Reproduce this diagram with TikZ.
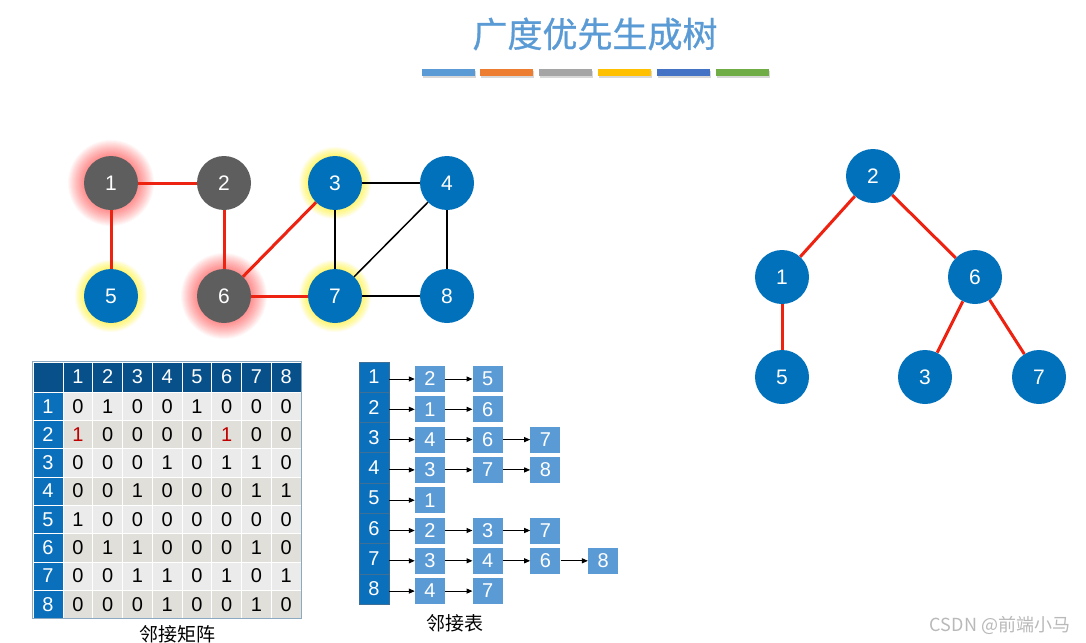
\documentclass[tikz,border=0pt]{standalone}
\usepackage{fontspec}
\setmainfont{Liberation Sans}
\newfontfamily\cjk{Noto Sans CJK SC}
\newfontfamily\cjktitle[FakeBold=0.8]{Noto Sans CJK SC}
\usepackage{tikz}
\usetikzlibrary{positioning,arrows.meta,shadows,backgrounds}
\usepackage{xcolor}

\definecolor{titleblue}{HTML}{5B9BD5}
\definecolor{nodegray}{HTML}{5E5E5E}
\definecolor{nodeblue}{HTML}{0071BA}
\definecolor{edgered}{HTML}{EE2211}
\definecolor{hdrnavy}{HTML}{08508A}
\definecolor{rowblue}{HTML}{0A70BC}
\definecolor{rowa}{HTML}{EBEBEB}
\definecolor{rowb}{HTML}{E0DFDA}
\definecolor{cellred}{HTML}{C00000}
\definecolor{boxblue}{HTML}{5B9BD5}
\definecolor{listline}{HTML}{3D6F97}
\definecolor{barorange}{HTML}{ED7D31}
\definecolor{bargray}{HTML}{A5A5A5}
\definecolor{baryellow}{HTML}{FFC000}
\definecolor{barblue}{HTML}{4472C4}
\definecolor{bargreen}{HTML}{70AD47}

\begin{document}
\begin{tikzpicture}[
    x=1pt, y=-1pt,
    vertex/.style={circle, minimum size=54pt, inner sep=0pt, text=white, font=\fontsize{21}{24}\selectfont},
    grayvertex/.style={vertex, fill=nodegray},
    bluevertex/.style={vertex, fill=nodeblue},
    treeedge/.style={draw=edgered, line width=3pt},
    graphedge/.style={draw=black, line width=1.5pt},
    colorbar/.style={minimum width=53pt, minimum height=7pt, inner sep=0pt, drop shadow={shadow xshift=1pt, shadow yshift=-2pt, opacity=0.3}},
    cell/.style={minimum width=29.75pt, minimum height=28.3pt, inner sep=0pt, draw=white, line width=0.6pt, font=\fontsize{20}{22}\selectfont},
    colhead/.style={cell, fill=hdrnavy, text=white, minimum height=30pt},
    rowhead/.style={cell, fill=rowblue, text=white, minimum width=30pt},
    gridline/.style={draw=listline!60, line width=0.6pt},
    listhead/.style={rectangle, minimum width=30pt, minimum height=30.3pt, inner sep=0pt, fill=rowblue, draw=listline, line width=0.6pt, text=white, font=\fontsize{20}{22}\selectfont},
    listbox/.style={rectangle, minimum width=30pt, minimum height=26pt, inner sep=0pt, fill=boxblue, text=white, font=\fontsize{20}{22}\selectfont},
    link/.style={-{Triangle[length=6pt,width=5pt]}, line width=1pt},
    caption/.style={font=\cjk\fontsize{19}{21}\selectfont}
  ]
    \useasboundingbox (0,0) rectangle (1086,642);

    % Title
    \node[font=\cjktitle\fontsize{35}{40}\selectfont, text=titleblue] (title) at (595,34) {广度优先生成树};
    \node[colorbar, fill=titleblue] (bar1) at (448.5,72.5) {};
    \node[colorbar, fill=barorange] (bar2) at (506,72.5) {};
    \node[colorbar, fill=bargray] (bar3) at (565,72.5) {};
    \node[colorbar, fill=baryellow] (bar4) at (624,72.5) {};
    \node[colorbar, fill=barblue] (bar5) at (683,72.5) {};
    \node[colorbar, fill=bargreen] (bar6) at (742,72.5) {};

    % Graph
    \node[grayvertex] (g1) at (111,183) {1};
    \node[grayvertex] (g2) at (224,183) {2};
    \node[bluevertex] (g3) at (335,183) {3};
    \node[bluevertex] (g4) at (447,183) {4};
    \node[bluevertex] (g5) at (111,296) {5};
    \node[grayvertex] (g6) at (224,296) {6};
    \node[bluevertex] (g7) at (335,296) {7};
    \node[bluevertex] (g8) at (447,296) {8};

    \draw[treeedge] (g1) -- (g2);
    \draw[treeedge] (g1) -- (g5);
    \draw[treeedge] (g2) -- (g6);
    \draw[treeedge] (g6) -- (g3);
    \draw[treeedge] (g6) -- (g7);
    \draw[graphedge] (g3) -- (g4);
    \draw[graphedge] (g3) -- (g7);
    \draw[graphedge] (g4) -- (g7);
    \draw[graphedge] (g4) -- (g8);
    \draw[graphedge] (g7) -- (g8);

    % Glow
    \begin{scope}[on background layer]
      \fill[white] (0,0) rectangle (1086,642);
      \foreach \n in {g1,g6}
        \foreach \k in {1,...,16}
          \fill[red, opacity=0.032] (\n) circle[radius={(27+\k)*1pt}];
      \foreach \n in {g3,g5,g7}
        \foreach \k in {1,...,9}
          \fill[yellow, opacity=0.075] (\n) circle[radius={(27+\k)*1pt}];
    \end{scope}

    % Adjacency matrix
    \node[colhead, minimum width=30pt] (corner) at (48,377) {};
    \foreach \j in {1,...,8}
      \node[colhead] (c\j) at ({63+(\j-0.5)*29.75},377) {\j};
    \foreach \i/\rowfill/\row in {1/rowa/{0,1,0,0,1,0,0,0}, 2/rowb/{1,0,0,0,0,1,0,0},
        3/rowa/{0,0,0,1,0,1,1,0}, 4/rowb/{0,0,1,0,0,0,1,1}, 5/rowa/{1,0,0,0,0,0,0,0},
        6/rowb/{0,1,1,0,0,0,1,0}, 7/rowa/{0,0,1,1,0,1,0,1}, 8/rowb/{0,0,0,1,0,0,1,0}} {
      \node[rowhead] (r\i) at (48,{392+(\i-0.5)*28.3}) {\i};
      \foreach \v [count=\j] in \row {
        \def\numcol{black}
        \ifnum\i=2 \ifnum\j=1 \def\numcol{cellred}\fi \ifnum\j=6 \def\numcol{cellred}\fi\fi
        \node[cell, fill=\rowfill, text=\numcol] (m\i-\j) at ({63+(\j-0.5)*29.75},{392+(\i-0.5)*28.3}) {\v};
      }
    }
    \draw[gridline] (corner.north west) rectangle (m8-8.south east);
    \node[caption] (mcap) at (177,634) {邻接矩阵};

    % Adjacency list
    \foreach \i/\row in {1/{2,5}, 2/{1,6}, 3/{4,6,7}, 4/{3,7,8}, 5/{1}, 6/{2,3,7}, 7/{3,4,6,8}, 8/{4,7}} {
      \node[listhead] (l\i) at (374,{377+(\i-1)*30.3}) {\i};
      \foreach \v [count=\k] in \row {
        \node[listbox] (b\i-\k) at ({430+(\k-1)*57.7},{379+(\i-1)*30.3}) {\v};
        \pgfmathtruncatemacro\p{\k-1}
        \ifnum\k=1
          \draw[link] (l\i.east |- b\i-\k) -- (b\i-\k.west);
        \else
          \draw[link] (b\i-\p) -- (b\i-\k);
        \fi
      }
    }
    \node[caption] (lcap) at (455,623) {邻接表};

    % Spanning tree
    \node[bluevertex] (t2) at (873,176) {2};
    \node[bluevertex] (t1) at (782,277) {1};
    \node[bluevertex] (t6) at (975,277) {6};
    \node[bluevertex] (t5) at (782,377) {5};
    \node[bluevertex] (t3) at (925,377) {3};
    \node[bluevertex] (t7) at (1039,377) {7};
    \draw[treeedge] (t2) -- (t1);
    \draw[treeedge] (t2) -- (t6);
    \draw[treeedge] (t1) -- (t5);
    \draw[treeedge] (t6) -- (t3);
    \draw[treeedge] (t6) -- (t7);

    % Watermark
    \node[font=\cjk\fontsize{18}{20}\selectfont, text=gray!55] (mark) at (1000,625) {CSDN @前端小马};
  \end{tikzpicture}
\end{document}
